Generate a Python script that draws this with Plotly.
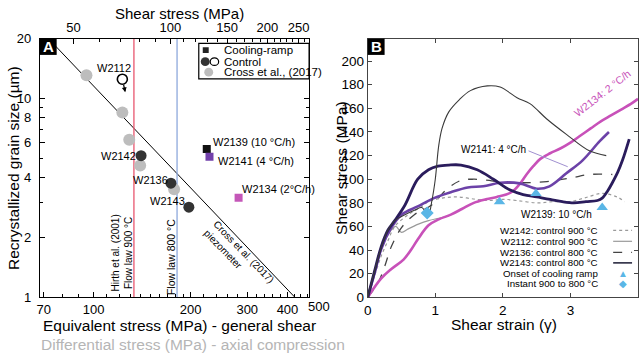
import plotly.graph_objects as go
import numpy as np

# ---------------- Panel A data ----------------
cross_eq = [95, 122.8, 129, 139.5, 177.8]
cross_d = [13.1, 8.5, 6.2, 4.6, 3.5]
control_names = ["W2142", "W2136", "W2143"]
control_eq = [140.4, 173.8, 197.6]
control_d = [5.16, 3.75, 2.84]
w2112_eq = [122.8]
w2112_d = [12.5]
ramp_names = ["W2139 (10 °C/h)", "W2141 (4 °C/h)", "W2134 (2°C/h)"]
ramp_eq = [224.6, 229, 282]
ramp_d = [5.58, 5.1, 3.17]
ramp_colors = ["#111111", "#7240ab", "#c457b8"]
piezo_eq = [72.4, 422]
piezo_d = [20, 1]
flowlaw_900 = 133.4
flowlaw_800 = 181.6
eq_ticks = [70, 100, 200, 300, 400]
shear_ticks = [50, 100, 150, 200, 250]
grain_ticks = [1, 2, 4, 6, 8, 10, 20]

# ---------------- Panel B data ----------------
w2134_x = [0, 0.2, 0.35, 0.53, 0.65, 0.74, 0.9, 1.05, 1.23, 1.4, 1.57, 1.75, 1.91, 2.05, 2.15, 2.25, 2.35, 2.45,
           2.55, 2.7, 2.85, 3.0, 3.15, 3.3, 3.45, 3.6, 3.75, 3.9, 4.0]
w2134_y = [0, 16, 24, 32, 41, 49, 61, 66, 70, 75, 80, 83, 85, 87, 90, 96, 104, 111,
           117, 122, 126, 131, 137, 143, 149, 154, 159, 164, 168]
w2141_x = [0, 0.1, 0.2, 0.35, 0.5, 0.74, 0.98, 1.23, 1.48, 1.71, 1.96, 2.25, 2.5, 2.69, 2.94, 3.18, 3.43, 3.57]
w2141_y = [0, 20, 41, 59, 70, 77, 84, 89, 93, 94, 97, 96.5, 92, 94, 105, 116, 132, 140]
w2139_x = [0, 0.1, 0.2, 0.3, 0.4, 0.55, 0.74, 0.9, 1.04, 1.2, 1.38, 1.62, 1.86, 2.1, 2.3, 2.5, 2.7, 2.88, 3.05,
           3.23, 3.4, 3.47, 3.55, 3.62, 3.7, 3.77, 3.87]
w2139_y = [0, 22, 43, 57, 65, 78, 100, 108, 111, 112, 112, 108, 100, 91, 87, 85, 83, 81, 80,
           81, 82, 84, 90, 97, 106, 116, 134]
w2143_x = [0, 0.1, 0.2, 0.3, 0.4, 0.55, 0.7, 0.8, 0.86, 0.9, 0.95, 1.0, 1.05, 1.1, 1.2, 1.35, 1.52, 1.77, 1.96,
           2.21, 2.4, 2.65, 2.94, 3.28, 3.53]
w2143_y = [0, 22, 42, 57, 65, 70, 74, 76, 72, 70, 82, 100, 128, 143, 157, 167, 175, 179, 178,
           169, 164, 151, 138, 124, 120]
w2136_x = [0, 0.15, 0.25, 0.35, 0.5, 0.69, 0.94, 1.18, 1.38, 1.57, 1.8, 2.0, 2.3, 2.65, 3.0, 3.28, 3.62]
w2136_y = [0, 12, 26, 43, 59, 70, 78, 92, 99, 100, 99, 97, 97, 98, 101, 104, 104]
w2142_x = [0, 0.1, 0.2, 0.3, 0.4, 0.6, 0.8, 0.9, 1.1, 1.33, 1.6, 1.82, 2.0, 2.2, 2.5, 2.75, 2.99, 3.2, 3.47,
           3.69, 3.8]
w2142_y = [0, 18, 35, 48, 60, 70, 77, 81, 84, 85, 83, 82, 83, 82, 80, 81, 81, 84, 88, 85, 81]
w2112_x = [0, 0.1, 0.2, 0.3, 0.38, 0.42, 0.5, 0.6, 0.75, 0.9, 1.05, 1.2]
w2112_y = [0, 20, 40, 53, 59, 60, 55, 58, 62, 65, 67, 69]
cool_x = [1.95, 2.49, 3.47]
cool_y = [81, 88, 76]
instant_x = [0.88]
instant_y = [71.5]

FONT = "Liberation Sans, Arial, sans-serif"
W, H = 640, 360


def px(x):
    return x / W


def py(y):
    return 1 - y / H


fig = go.Figure()

# ---- Panel A traces ----
fig.add_trace(go.Scatter(x=piezo_eq, y=piezo_d, mode="lines", line=dict(color="black", width=1),
                         xaxis="x", yaxis="y", showlegend=False, hoverinfo="skip"))
fig.add_trace(go.Scatter(x=[flowlaw_900, flowlaw_900], y=[1, 20], mode="lines",
                         line=dict(color="#e8566f", width=1.3), xaxis="x", yaxis="y", showlegend=False))
fig.add_trace(go.Scatter(x=[flowlaw_800, flowlaw_800], y=[1, 20], mode="lines",
                         line=dict(color="#8ea8dc", width=1.3), xaxis="x", yaxis="y", showlegend=False))
fig.add_trace(go.Scatter(x=cross_eq, y=cross_d, mode="markers",
                         marker=dict(color="#bdbdbd", size=12), xaxis="x", yaxis="y", showlegend=False))
fig.add_trace(go.Scatter(x=control_eq, y=control_d, mode="markers",
                         marker=dict(color="#333333", size=11), xaxis="x", yaxis="y", showlegend=False))
fig.add_trace(go.Scatter(x=w2112_eq, y=w2112_d, mode="markers",
                         marker=dict(color="white", size=10, line=dict(color="black", width=1.6)),
                         xaxis="x", yaxis="y", showlegend=False))
fig.add_trace(go.Scatter(x=ramp_eq, y=ramp_d, mode="markers",
                         marker=dict(color=ramp_colors, size=8, symbol="square"),
                         xaxis="x", yaxis="y", showlegend=False))
# helper trace for top (shear stress) axis
fig.add_trace(go.Scatter(x=[v / np.sqrt(3) for v in piezo_eq], y=piezo_d, mode="lines",
                         line=dict(width=0, color="rgba(0,0,0,0)"), xaxis="x2", yaxis="y",
                         showlegend=False, hoverinfo="skip"))

# ---- Panel B traces ----
fig.add_trace(go.Scatter(x=w2142_x, y=w2142_y, mode="lines", line=dict(color="#9a9a9a", width=1.2, dash="dot", shape="spline"),
                         xaxis="x3", yaxis="y3", showlegend=False))
fig.add_trace(go.Scatter(x=w2112_x, y=w2112_y, mode="lines", line=dict(color="#9a9a9a", width=1.2, shape="spline"),
                         xaxis="x3", yaxis="y3", showlegend=False))
fig.add_trace(go.Scatter(x=w2136_x, y=w2136_y, mode="lines", line=dict(color="#444444", width=1.3, dash="dash", shape="spline"),
                         xaxis="x3", yaxis="y3", showlegend=False))
fig.add_trace(go.Scatter(x=w2134_x, y=w2134_y, mode="lines", line=dict(color="#c851b9", width=2.6, shape="spline"),
                         xaxis="x3", yaxis="y3", showlegend=False))
fig.add_trace(go.Scatter(x=w2141_x, y=w2141_y, mode="lines", line=dict(color="#6c42a8", width=2.6, shape="spline"),
                         xaxis="x3", yaxis="y3", showlegend=False))
fig.add_trace(go.Scatter(x=w2139_x, y=w2139_y, mode="lines", line=dict(color="#2a1c5c", width=2.8, shape="spline"),
                         xaxis="x3", yaxis="y3", showlegend=False))
fig.add_trace(go.Scatter(x=w2143_x, y=w2143_y, mode="lines", line=dict(color="#3a3a3a", width=1.1, shape="spline"),
                         xaxis="x3", yaxis="y3", showlegend=False))
fig.add_trace(go.Scatter(x=cool_x, y=cool_y, mode="markers", marker=dict(color="#5ab6e6", size=10, symbol="triangle-up"),
                         xaxis="x3", yaxis="y3", showlegend=False))
fig.add_trace(go.Scatter(x=instant_x, y=instant_y, mode="markers", marker=dict(color="#5ab6e6", size=10, symbol="diamond"),
                         xaxis="x3", yaxis="y3", showlegend=False))

tickfont = dict(family=FONT, size=13, color="black")
axA_dom_x = [px(36), px(307)]
axB_dom_x = [px(366), px(638)]
dom_y = [py(303), py(33)]

lo = np.log10(70) - 4 / 324
hi = np.log10(70) + 267 / 324
sh = np.log10(np.sqrt(3))

fig.update_layout(
    width=W, height=H, margin=dict(l=0, r=0, t=0, b=0),
    paper_bgcolor="white", plot_bgcolor="white",
    font=dict(family=FONT, color="black"),
    xaxis=dict(domain=axA_dom_x, anchor="y", type="log", range=[lo, hi], tickvals=eq_ticks,
               ticktext=[str(v) for v in eq_ticks], ticks="inside", ticklen=5, tickcolor="black",
               showline=True, linecolor="black", linewidth=1, showgrid=False, zeroline=False,
               tickfont=tickfont,
               minor=dict(ticks="inside", ticklen=3, tickcolor="black",
                          tickvals=[80, 90, 110, 120, 130, 140, 150, 160, 170, 180, 190, 220, 240, 260, 280,
                                    320, 340, 360, 380, 420, 440, 460])),
    xaxis2=dict(overlaying="x", side="top", anchor="y", type="log", range=[lo - sh, hi - sh],
                tickvals=shear_ticks, ticktext=[str(v) for v in shear_ticks], ticks="inside", ticklen=5,
                tickcolor="black", showline=True, linecolor="black", linewidth=1, showgrid=False,
                tickfont=tickfont,
                minor=dict(ticks="inside", ticklen=3, tickcolor="black",
                           tickvals=[60, 70, 80, 90, 110, 120, 130, 140, 160, 170, 180, 190, 210, 220, 230, 240,
                                     260])),
    yaxis=dict(domain=dom_y, anchor="x", type="log", range=[0, np.log10(20)], tickvals=grain_ticks,
               ticktext=[str(v) for v in grain_ticks], ticks="inside", ticklen=5, tickcolor="black",
               showline=True, linecolor="black", linewidth=1, mirror="ticks", showgrid=False,
               tickfont=tickfont, ticklabelstandoff=5,
               minor=dict(ticks="inside", ticklen=3, tickcolor="black", tickvals=[3, 5, 7, 9])),
    xaxis3=dict(domain=axB_dom_x, anchor="y3", range=[0, 4], tickvals=[0, 1, 2, 3, 4], ticks="inside",
                ticklen=4, tickcolor="#444", showline=True, linecolor="#444", linewidth=1, mirror="ticks",
                showgrid=False, zeroline=False, tickfont=dict(family=FONT, size=13.5, color="black")),
    yaxis3=dict(domain=dom_y, anchor="x3", range=[0, 219], tickvals=list(range(0, 201, 20)), ticks="inside",
                ticklen=4, tickcolor="#444", showline=True, linecolor="#444", linewidth=1, mirror="ticks",
                showgrid=False, zeroline=False, tickfont=dict(family=FONT, size=13.5, color="black")),
)

ann = []
shapes = []


def text(x, y, s, size=11, color="black", xanchor="center", yanchor="middle", angle=0, align="center"):
    ann.append(dict(x=px(x), y=py(y), xref="paper", yref="paper", text=s, showarrow=False,
                    font=dict(family=FONT, size=size, color=color), xanchor=xanchor, yanchor=yanchor,
                    textangle=angle, align=align))


# axis titles
text(177, 7, "Shear stress (MPa)", size=15)
text(9, 168, "Recrystallized grain size (µm)", size=15.5, angle=-90)
text(177, 332, "Equivalent stress (MPa) - general shear", size=15.5)
text(35, 352, "Differential stress (MPa) - axial compression", size=15.5, color="#b5b5b5", xanchor="left")
text(339, 168, "Shear stress (MPa)", size=15.5, angle=-90)
text(503, 331, "Shear strain (γ)", size=15.5)
# extra 500 label
text(317, 313, "500", size=13)

# panel labels
for (x0, y0, lab) in [(36, 33, "A"), (366, 33, "B")]:
    shapes.append(dict(type="rect", xref="paper", yref="paper", x0=px(x0), x1=px(x0 + 17), y0=py(y0 + 17),
                       y1=py(y0), fillcolor="black", line=dict(width=0)))
    text(x0 + 8.5, y0 + 8.5, "<b>" + lab + "</b>", size=15, color="white")

# panel A data labels
text(111, 64, "W2112", size=11)
text(115, 155, "W2142", size=11)
text(147, 181, "W2136", size=11)
text(165, 202, "W2143", size=11)
text(208, 141, ramp_names[0], size=11, xanchor="left")
text(213, 161, ramp_names[1], size=11, xanchor="left")
text(237, 190, ramp_names[2], size=11, xanchor="left")
text(119, 257, "Hirth et al. (2001)<br>Flow law 900 °C", size=10, angle=-90)
text(168, 261, "Flow law 800 °C", size=10.5, angle=-90)
text(236, 260, "Cross et al. (2017)<br>piezometer", size=10, angle=46, align="left")

# W2112 arrow
ann.append(dict(x=np.log10(125.4), y=np.log10(10.75), xref="x", yref="y", ax=-2, ay=-9, showarrow=True,
                arrowhead=2, arrowsize=0.8, arrowwidth=1.2, arrowcolor="black", text=""))

# legend A
shapes.append(dict(type="rect", xref="paper", yref="paper", x0=px(196), x1=px(307), y0=py(75), y1=py(38),
                   line=dict(color="black", width=1.2), fillcolor="white", layer="above"))
shapes.append(dict(type="rect", xref="paper", yref="paper", x0=px(200), x1=px(206), y0=py(48), y1=py(42),
                   fillcolor="#222", line=dict(width=0)))
shapes.append(dict(type="circle", xref="paper", yref="paper", x0=px(198), x1=px(207), y0=py(61.5), y1=py(52.5),
                   fillcolor="#333", line=dict(width=0)))
shapes.append(dict(type="circle", xref="paper", yref="paper", x0=px(207.5), x1=px(216), y0=py(61), y1=py(53),
                   fillcolor="white", line=dict(color="black", width=1.2)))
shapes.append(dict(type="circle", xref="paper", yref="paper", x0=px(201.5), x1=px(210.5), y0=py(72.5),
                   y1=py(63.5), fillcolor="#bdbdbd", line=dict(width=0)))
text(219, 45, "Cooling-ramp", size=11.5, xanchor="left")
text(219, 57, "Control", size=11.5, xanchor="left")
text(219, 68, "Cross et al., (2017)", size=11.5, xanchor="left")

# panel B labels
ann.append(dict(x=3.47, y=173, xref="x3", yref="y3", text="W2134: 2 °C/h", showarrow=False, textangle=-38,
                font=dict(family=FONT, size=10.5, color="#c851b9")))
ann.append(dict(x=2.37, y=125, xref="x3", yref="y3", text="W2141: 4 °C/h", showarrow=False,
                xanchor="right", font=dict(family=FONT, size=10, color="black")))
shapes.append(dict(type="line", xref="x3", yref="y3", x0=2.38, y0=124, x1=2.96, y1=110.6,
                   line=dict(color="#a090d0", width=1)))
ann.append(dict(x=2.8, y=70, xref="x3", yref="y3", text="W2139: 10 °C/h", showarrow=False,
                font=dict(family=FONT, size=10, color="black")))

# legend B
leg_rows = [("W2142: control 900 °C", "#9a9a9a", "dot", 1.2),
            ("W2112: control 900 °C", "#9a9a9a", "solid", 1.2),
            ("W2136: control 800 °C", "#444444", "dash", 1.3),
            ("W2143: control 800 °C", "#2a2a40", "solid", 1.6)]
ys = [233, 244.5, 256, 267, 278, 289]
for (lab, col, dash, wd), yy in zip(leg_rows, ys[:4]):
    text(600, yy, lab, size=9.7, xanchor="right")
    shapes.append(dict(type="line", xref="paper", yref="paper", x0=px(613), x1=px(632), y0=py(yy), y1=py(yy),
                       line=dict(color=col, width=wd, dash=dash)))
text(600, ys[4], "Onset of cooling ramp", size=9.7, xanchor="right")
text(600, ys[5], "Instant 900 to 800 °C", size=9.7, xanchor="right")
text(623, ys[4], "▲", size=10, color="#5ab6e6")
text(623, ys[5], "◆", size=10, color="#5ab6e6")

fig.update_layout(annotations=ann, shapes=shapes)
fig.write_html("out.html", config={"displayModeBar": False},
               post_script="document.body.style.margin='0';document.body.style.padding='0';")
